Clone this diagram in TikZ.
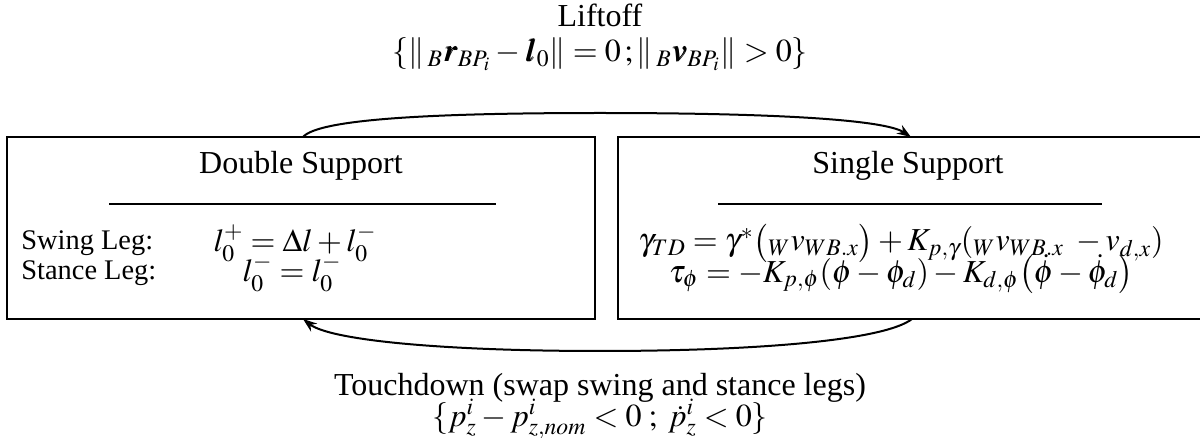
\documentclass[tikz,border=0pt]{standalone}
\usepackage{mathptmx}
\usepackage{bm}
\usepackage{fontspec}
\setmainfont{Liberation Serif}
\usetikzlibrary{arrows.meta}

\tikzset{
  state/.style={draw, line width=1pt, inner sep=0pt},
  trans/.style={-{Stealth[length=7pt,width=5pt]}, line width=1pt},
  txt/.style={inner sep=0pt, font=\fontsize{16}{19}\selectfont},
  lbl/.style={inner sep=0pt, anchor=west, font=\fontsize{14.2}{17}\selectfont},
}

\begin{document}
\begin{tikzpicture}[x=0.5pt,y=-0.5pt]
  \useasboundingbox (0,0) rectangle (1200,438);
  % states
  \node[state, minimum width=294pt, minimum height=91pt] (ds) at (301,228) {};
  \node[state, minimum width=300pt, minimum height=91pt] (ss) at (918,228) {};
  % double support
  \node[txt] (dstitle) at (301,166) {Double Support};
  \draw[line width=1pt] (109,204) -- (496,204);
  \node[lbl] (swing) at (21,243) {Swing Leg:};
  \node[lbl] (stance) at (21,273) {Stance Leg:};
  \node[txt] (swingeq) at (295,243) {$l_0^+ = \Delta l + l_0^-$};
  \node[txt] (stanceeq) at (292,273) {$l_0^- = l_0^-$};
  % single support
  \node[txt] (sstitle) at (908,166) {Single Support};
  \draw[line width=1pt] (718,204) -- (1102,204);
  \node[txt] (gammaeq) at (901,243)
    {$\gamma_{TD} = \gamma^*\bigl({}_W v_{WB.x}\bigr) + K_{p,\gamma}({}_W v_{WB.x}\ - v_{d,x})$};
  \node[txt] (taueq) at (901,274)
    {$\tau_\phi = -K_{p,\phi}(\phi - \phi_d) - K_{d,\phi}\bigl(\dot\phi - \dot\phi_d\bigr)$};
  % transitions
  \coordinate (lostart) at (303,137);
  \coordinate (lotop) at (600,113);
  \coordinate (loend) at (911,137);
  \coordinate (tdstart) at (912,319);
  \coordinate (tdlow) at (600,351);
  \coordinate (tdend) at (303,319);
  \draw[trans] (lostart) .. controls (318,120) and (420,113) .. (lotop)
    .. controls (780,113) and (885,120) .. (loend);
  \draw[trans] (tdstart) .. controls (885,340) and (760,351) .. (tdlow)
    .. controls (440,351) and (330,340) .. (tdend);
  \node[txt] (lo) at (600,15) {Liftoff};
  \node[txt] (locond) at (600,54)
    {$\{\|\,{}_B\bm{r}_{BP_i} - \bm{l}_0\| = 0\,;\|\,{}_B\bm{v}_{BP_i}\| > 0\}$};
  \node[txt] (td) at (600,388) {Touchdown (swap swing and stance legs)};
  \node[txt] (tdcond) at (600,419)
    {$\{p_z^i - p_{z,nom}^i < 0\;;\;\dot p_z^i < 0\}$};
\end{tikzpicture}
\end{document}
